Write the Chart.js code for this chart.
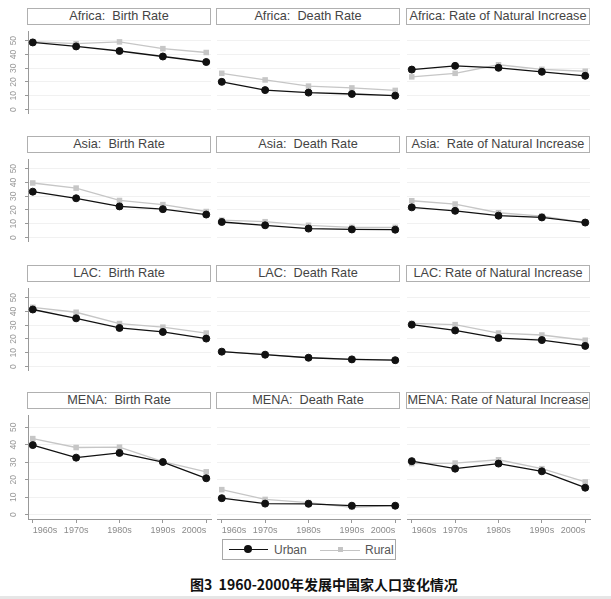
<!DOCTYPE html>
<html><head><meta charset="utf-8">
<script src="https://cdn.jsdelivr.net/npm/chart.js@4.4.1/dist/chart.umd.min.js"></script>
<style>
html,body{margin:0;padding:0;background:#fff;}
body{width:611px;height:599px;position:relative;overflow:hidden;font-family:"Liberation Sans",Arial,sans-serif;}
.t{position:absolute;box-sizing:border-box;border:1px solid #b0b0b0;height:17px;font-size:12.7px;color:#444;text-align:center;line-height:15px;background:#fff;white-space:pre;overflow:hidden}
.cv{position:absolute;}
#legend{position:absolute;left:222px;top:539px;width:174px;height:21px;box-sizing:border-box;border:1px solid #a8a8a8;background:#fff;}
.ln{position:absolute;height:0;}
.lt{position:absolute;top:3px;font-size:12px;color:#555;}
#caption{position:absolute;left:190px;top:574px;font-family:"Noto Sans CJK SC",sans-serif;font-weight:bold;font-size:14px;color:#111;white-space:pre;}
#bar{position:absolute;left:0;top:596px;width:611px;height:3px;background:#e6e6e6;}
</style>
</head><body>
<div id="legend">
  <div class="ln" style="left:6px;top:9px;width:39px;border-top:1.5px solid #111"></div>
  <div style="position:absolute;left:21px;top:5px;width:8px;height:8px;border-radius:50%;background:#111"></div>
  <div class="lt" style="left:51px">Urban</div>
  <div class="ln" style="left:97px;top:9.5px;width:40px;border-top:1.2px solid #c4c4c4"></div>
  <div style="position:absolute;left:115px;top:7px;width:5px;height:5px;background:#c4c4c4"></div>
  <div class="lt" style="left:142px">Rural</div>
</div>
<div id="caption">图3  1960-2000年发展中国家人口变化情况</div>
<div id="bar"></div>
<script>
const decades = ['1960s','1970s','1980s','1990s','2000s'];
const yTicks = [0,10,20,30,40,50];
const regions = ['Africa','Asia','LAC','MENA'];
const measures = ['Birth Rate','Death Rate','Rate of Natural Increase'];
const titleSep = [
  [':  ',':  ',': '],
  [':  ',':  ',':  '],
  [':  ',':  ',': '],
  [':  ',':  ',': ']
];

const africaBirthUrban = [48.7,45.8,42.5,38.5,34.5];
const africaBirthRural = [49.3,47.8,49.1,44.2,41.4];
const africaDeathUrban = [20.1,14.1,12.3,11.3,10.1];
const africaDeathRural = [26.3,21.5,17.0,15.7,13.9];
const africaRniUrban   = [29.0,31.7,30.3,27.4,24.5];
const africaRniRural   = [23.7,26.3,32.5,29.2,27.8];

const asiaBirthUrban = [33.3,28.5,22.6,20.6,16.7];
const asiaBirthRural = [39.6,35.9,26.9,23.9,18.9];
const asiaDeathUrban = [11.3,8.9,6.5,5.9,5.7];
const asiaDeathRural = [12.6,11.5,8.9,7.4,7.4];
const asiaRniUrban   = [21.9,19.4,15.9,14.6,10.9];
const asiaRniRural   = [26.7,24.3,18.0,15.6,10.9];

const lacBirthUrban = [41.4,35.0,28.0,25.1,20.3];
const lacBirthRural = [43.0,39.4,31.2,28.6,24.3];
const lacDeathUrban = [10.8,8.6,6.4,5.2,4.6];
const lacDeathRural = [10.9,8.7,6.5,5.3,4.7];
const lacRniUrban   = [30.4,26.2,20.7,19.2,15.0];
const lacRniRural   = [31.3,30.4,24.3,22.9,19.1];

const menaBirthUrban = [39.8,32.6,35.3,30.1,20.8];
const menaBirthRural = [43.5,38.4,38.6,30.3,24.5];
const menaDeathUrban = [9.4,6.3,6.2,5.1,5.1];
const menaDeathRural = [14.3,8.7,6.9,4.2,5.1];
const menaRniUrban   = [30.6,26.3,29.2,24.8,15.4];
const menaRniRural   = [29.2,29.5,31.4,26.3,18.7];

const panelData = [
  [[africaBirthUrban,africaBirthRural],[africaDeathUrban,africaDeathRural],[africaRniUrban,africaRniRural]],
  [[asiaBirthUrban,asiaBirthRural],[asiaDeathUrban,asiaDeathRural],[asiaRniUrban,asiaRniRural]],
  [[lacBirthUrban,lacBirthRural],[lacDeathUrban,lacDeathRural],[lacRniUrban,lacRniRural]],
  [[menaBirthUrban,menaBirthRural],[menaDeathUrban,menaDeathRural],[menaRniUrban,menaRniRural]]
];

const colLeft = [28,217,407];
const rowTop = [26,154,283,410];
const plotW = 183, plotH = 109;

function toXY(arr){ return arr.map((v,i)=>({x:i,y:v})); }

for (let r=0;r<4;r++){
  for (let c=0;c<3;c++){
    const t = document.createElement('div');
    t.className='t';
    t.style.left = (colLeft[c]-1)+'px';
    t.style.top = (rowTop[r]-18)+'px';
    t.style.width = (plotW+1)+'px';
    t.textContent = regions[r] + titleSep[r][c] + measures[c];
    document.body.appendChild(t);

    const axisW = c===0 ? 28 : 0;
    const padL = c===0 ? 0 : 14;
    const padR = 14;
    const bottomH = r===3 ? 22 : 0;
    const cv = document.createElement('canvas');
    cv.className='cv';
    const w = plotW + axisW + padL + padR;
    const h = plotH + bottomH;
    cv.width = w; cv.height = h;
    cv.style.width = w+'px'; cv.style.height = h+'px';
    cv.style.left = (colLeft[c]-axisW-padL)+'px';
    cv.style.top = rowTop[r]+'px';
    document.body.appendChild(cv);

    const [urban, rural] = panelData[r][c];
    new Chart(cv, {
      type:'line',
      data:{datasets:[
        {label:'Rural', data:toXY(rural), borderColor:'#c6c6c6', backgroundColor:'#c6c6c6',
         borderWidth:1.3, pointStyle:'rect', pointRadius:3.9, pointBorderWidth:0, order:2},
        {label:'Urban', data:toXY(urban), borderColor:'#111', backgroundColor:'#111',
         borderWidth:1.3, pointStyle:'circle', pointRadius:3.5, pointBorderWidth:1, order:1}
      ]},
      options:{
        responsive:false, animation:false, devicePixelRatio:1,
        layout:{padding:{left:padL,right:padR,top:0,bottom:0}},
        plugins:{legend:{display:false},tooltip:{enabled:false}},
        scales:{
          x:{type:'linear', min:-0.11, max:4.11, display: r===3,
             grid:{drawOnChartArea:false, tickLength:4, tickColor:'#999'},
             border:{color:'#999'},
             ticks:{stepSize:1, includeBounds:false, autoSkip:false, maxRotation:0, align:'inner',
                    color:'#8a8a8a', font:{size:9, family:'"Liberation Sans", Arial'}, padding:2,
                    callback:(v)=>decades[v]},
             afterFit:(s)=>{s.height=22; s.paddingLeft=0; s.paddingRight=0;}
          },
          y:{type:'linear', min:-2.5, max:57,
             afterBuildTicks:(s)=>{s.ticks = yTicks.map(v=>({value:v}));},
             grid:{color:'#f1f1f1', drawTicks: c===0, tickLength:3, tickColor:'#999'},
             border:{display: c===0, color:'#999'},
             ticks:{display: c===0, minRotation:90, maxRotation:90, crossAlign:'center', padding:7,
                    color:'#999', font:{size:8.5, family:'"Liberation Sans", Arial'}},
             afterFit:(s)=>{s.width=axisW; s.paddingTop=0; s.paddingBottom=0;}
          }
        }
      }
    });
  }
}
</script>
</body></html>
